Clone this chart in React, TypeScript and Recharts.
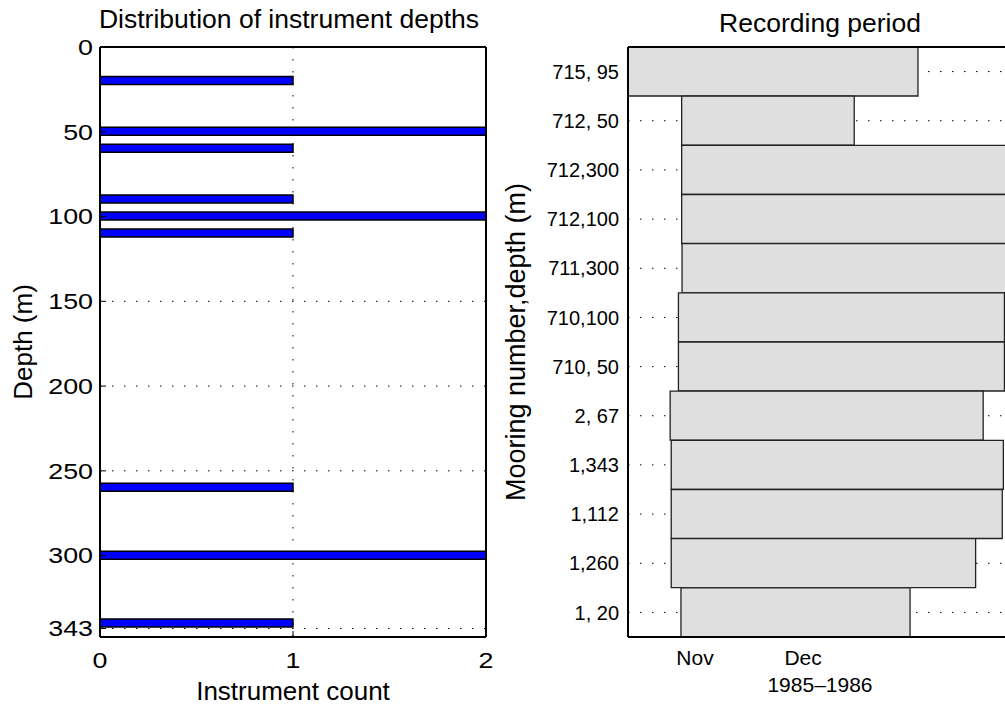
import { BarChart, Bar, XAxis, YAxis, CartesianGrid } from 'recharts';

// left panel: instrument depths (m) and number of instruments at each depth
const depths = [20, 50, 60, 90, 100, 110, 260, 300, 340];
const counts = [1, 2, 1, 1, 2, 1, 1, 2, 1];
const depthTicks = [0, 50, 100, 150, 200, 250, 300, 343];
const countTicks = [0, 1, 2];

// right panel: mooring,depth and recording start/end in days from 1 Nov 1985
const moorings = ['715, 95', '712, 50', '712,300', '712,100', '711,300', '710,100', '710, 50', '2, 67', '1,343', '1,112', '1,260', '1, 20'];
const startDays = [-18.6, -3.7, -3.7, -3.7, -3.6, -4.6, -4.6, -6.9, -6.6, -6.6, -6.6, -3.9];
const endDays = [61.9, 44.2, 88, 88, 86.9, 85.9, 85.9, 80.0, 85.6, 85.3, 77.9, 59.7];
const monthTicks = [0, 30];
const monthLabels = ['Nov', 'Dec'];

const FONT = '"Liberation Sans", Arial, Helvetica, sans-serif';
// the left panel's tick numbers are drawn wider than they are tall
const STRETCH = 1.22;
const GRID = { stroke: '#000', strokeDasharray: '1.5 10.5', strokeWidth: 1 };
const AXIS_LINE = { stroke: '#000', strokeWidth: 2 };

function StretchTick(props: any) {
  const { x, y, payload, textAnchor, verticalAnchor } = props;
  const dy = verticalAnchor === 'start' ? '0.71em' : verticalAnchor === 'middle' ? '0.355em' : 0;
  return (
    <text
      transform={`translate(${x},${y}) scale(${STRETCH},1)`}
      textAnchor={textAnchor}
      dy={dy}
      fontSize={22}
      fill="#000"
    >
      {payload.value}
    </text>
  );
}

function placed(text: string, size: number, dx: (vb: any) => number, dy: (vb: any) => number, rotate = 0) {
  return (p: any) => {
    const vb = p.viewBox || { x: 0, y: 0, width: 0, height: 0 };
    return (
      <text
        transform={`translate(${dx(vb)},${dy(vb)}) rotate(${rotate})`}
        textAnchor="middle"
        fontSize={size}
        fill="#000"
      >
        {text}
      </text>
    );
  };
}

// top axes are 1px tall, so their box starts 1px above the plot
const leftTitle = placed('Distribution of instrument depths', 26.5, (vb) => vb.x + vb.width / 2 - 4, (vb) => vb.y - 18);
const leftXLabel = placed('Instrument count', 26, (vb) => vb.x + vb.width / 2, (vb) => vb.y + 63);
const leftYLabel = placed('Depth (m)', 26, (vb) => vb.x + 32, (vb) => vb.y + vb.height / 2, -90);

const rightTitle = placed('Recording period', 26.5, (vb) => vb.x + vb.width / 2, (vb) => vb.y - 14);
const rightXLabel = placed('1985\u20131986', 21, (vb) => vb.x + vb.width / 2, (vb) => vb.y + 55);
const rightYLabel = placed('Mooring number,depth (m)', 27, (vb) => vb.x + 25, (vb) => vb.y + vb.height / 2, -90);

export default function App() {
  const depthData = depths.map((depth, i) => ({ depth, count: counts[i] }));
  const periodData = moorings.map((name, i) => ({ name, period: [startDays[i], endDays[i]] }));

  return (
    <div
      style={{
        position: 'absolute',
        left: 0,
        top: 0,
        width: 1005,
        height: 709,
        overflow: 'hidden',
        background: '#fff',
        fontFamily: FONT,
      }}
    >
      {/* Distribution of instrument depths */}
      <div style={{ position: 'absolute', left: 0, top: 0 }}>
        <BarChart
          width={500}
          height={709}
          layout="vertical"
          data={depthData}
          margin={{ top: 46, right: 13, bottom: 0, left: 0 }}
        >
          <CartesianGrid {...GRID} />
          <Bar dataKey="count" fill="#0000ff" stroke="#000" strokeWidth={1.5} barSize={8} isAnimationActive={false} />
          <XAxis
            type="number"
            dataKey="count"
            domain={[0, 2]}
            allowDataOverflow
            ticks={countTicks}
            height={72}
            axisLine={AXIS_LINE}
            tickLine={{ stroke: '#000' }}
            tickSize={-6}
            tickMargin={21}
            tick={StretchTick}
            label={{ position: 'insideBottom', content: leftXLabel }}
          />
          <XAxis
            xAxisId="top"
            orientation="top"
            type="number"
            domain={[0, 2]}
            allowDataOverflow
            height={1}
            tick={false}
            tickLine={false}
            axisLine={AXIS_LINE}
            label={{ position: 'top', content: leftTitle }}
          />
          <YAxis
            type="number"
            dataKey="depth"
            domain={[0, 348]}
            allowDataOverflow
            ticks={depthTicks}
            width={100}
            axisLine={AXIS_LINE}
            tickLine={{ stroke: '#000' }}
            tickSize={-6}
            tickMargin={13}
            tick={StretchTick}
            label={{ position: 'insideLeft', content: leftYLabel }}
          />
          <YAxis
            yAxisId="right"
            orientation="right"
            type="number"
            domain={[0, 348]}
            allowDataOverflow
            width={1}
            tick={false}
            tickLine={false}
            axisLine={AXIS_LINE}
          />
        </BarChart>
      </div>

      {/* Recording period */}
      <div style={{ position: 'absolute', left: 500, top: 0 }}>
        <BarChart
          width={520}
          height={709}
          layout="vertical"
          data={periodData}
          margin={{ top: 46, right: 8, bottom: 0, left: 0 }}
          barCategoryGap={0}
          barGap={0}
        >
          <CartesianGrid {...GRID} vertical={false} />
          <Bar dataKey="period" fill="#dfdfdf" stroke="#222" strokeWidth={1.3} isAnimationActive={false} />
          <XAxis
            type="number"
            domain={[-18.6, 88]}
            allowDataOverflow
            ticks={monthTicks}
            tickFormatter={(v: number) => monthLabels[monthTicks.indexOf(v)]}
            height={72}
            axisLine={AXIS_LINE}
            tickLine={false}
            tickSize={0}
            tickMargin={13}
            tick={{ fontSize: 21, fill: '#000' }}
            label={{ position: 'insideBottom', content: rightXLabel }}
          />
          <XAxis
            xAxisId="top"
            orientation="top"
            type="number"
            domain={[-18.6, 88]}
            allowDataOverflow
            height={1}
            tick={false}
            tickLine={false}
            axisLine={AXIS_LINE}
            label={{ position: 'top', content: rightTitle }}
          />
          <YAxis
            type="category"
            dataKey="name"
            width={128}
            axisLine={AXIS_LINE}
            tickLine={false}
            tickSize={0}
            tickMargin={9}
            tick={{ fontSize: 20, fill: '#000' }}
            label={{ position: 'insideLeft', content: rightYLabel }}
          />
        </BarChart>
      </div>
    </div>
  );
}
